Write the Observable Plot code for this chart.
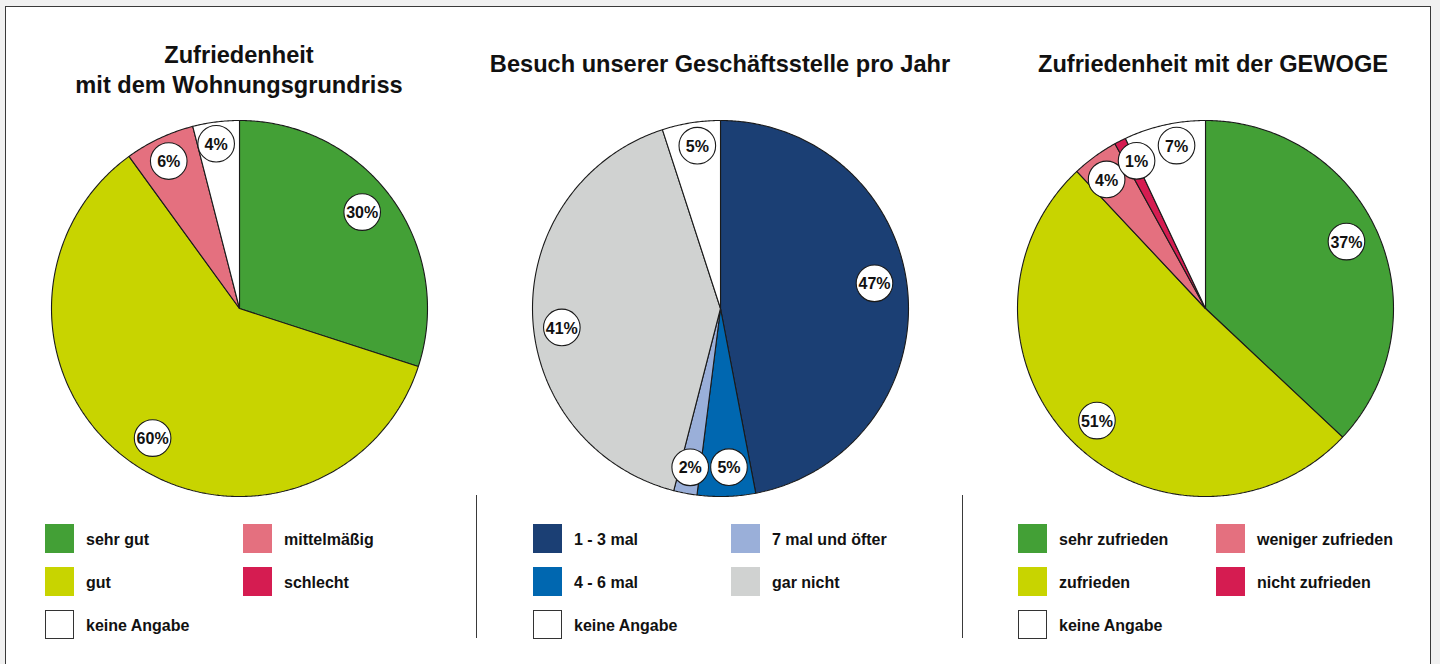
<!DOCTYPE html>
<html>
<head>
<meta charset="utf-8">
<script src="https://cdn.jsdelivr.net/npm/d3@7"></script>
<script src="https://cdn.jsdelivr.net/npm/@observablehq/plot@0.6"></script>
<style>
  html, body { margin: 0; padding: 0; }
  body { width: 1440px; height: 664px; overflow: hidden; background: #f1f1f1; position: relative;
         font-family: "Liberation Sans", Arial, Helvetica, sans-serif; color: #111; }
  #frame { position: absolute; left: 5px; top: 6px; width: 1426px; height: 720px;
           border: 1.5px solid #3a3a3a; background: #fff; box-sizing: border-box; }
  .title { position: absolute; width: 520px; text-align: center; font-weight: bold;
           font-size: 23.6px; line-height: 30px; color: #111; }
  .sep { position: absolute; width: 0; border-left: 1.5px solid #3a3a3a; }
  .item { position: absolute; height: 29px; display: flex; align-items: center; white-space: nowrap; }
  .sw { width: 29px; height: 29px; box-sizing: border-box; margin-right: 12px; flex: none; }
  .lab { font-weight: bold; font-size: 16px; padding-top: 2px; }
  .plot { position: absolute; }
</style>
</head>
<body>
<div id="frame"></div>
<script>
// ---------- data ----------
const grundrissTitle = ["Zufriedenheit", "mit dem Wohnungsgrundriss"];
const grundrissCategories = ["sehr gut", "gut", "mittelmäßig", "schlecht", "keine Angabe"];
const grundrissValues = [30, 60, 6, 0, 4];

const besuchTitle = ["Besuch unserer Geschäftsstelle pro Jahr"];
const besuchCategories = ["1 - 3 mal", "4 - 6 mal", "7 mal und öfter", "gar nicht", "keine Angabe"];
const besuchValues = [47, 5, 2, 41, 5];

const gewogeTitle = ["Zufriedenheit mit der GEWOGE"];
const gewogeCategories = ["sehr zufrieden", "zufrieden", "weniger zufrieden", "nicht zufrieden", "keine Angabe"];
const gewogeValues = [37, 51, 4, 1, 7];

const satisfactionColors = ["#43a036", "#c8d400", "#e4707f", "#d51c51", "#ffffff"];
const visitColors = ["#1b3f74", "#0067b0", "#9aafd9", "#d0d2d1", "#ffffff"];

// ---------- layout (label placement: [fraction along slice, fraction of radius]) ----------
const charts = [
  {title: grundrissTitle, cats: grundrissCategories, vals: grundrissValues, colors: satisfactionColors,
   cx: 239, titleX: 239, titleTop: 40, legendX: 45,
   labelPlace: [[0.48, 0.83], [0.49, 0.83], [0.48, 0.87], [0.5, 0.87], [0.44, 0.885]]},
  {title: besuchTitle, cats: besuchCategories, vals: besuchValues, colors: visitColors,
   cx: 720, titleX: 720, titleTop: 49, legendX: 533,
   labelPlace: [[0.477, 0.83], [0.43, 0.845], [0.5, 0.86], [0.466, 0.85], [0.55, 0.875]]},
  {title: gewogeTitle, cats: gewogeCategories, vals: gewogeValues, colors: satisfactionColors,
   cx: 1205, titleX: 1213, titleTop: 49, legendX: 1018,
   labelPlace: [[0.485, 0.83], [0.495, 0.83], [0.40, 0.865], [1.05, 0.867], [0.6, 0.88]]}
];
const cy = 308, R = 188, M = 12, S = 2 * (R + M);
const ink = "#1a1a1a";

function buildPie(ch) {
  const rows = ch.cats.map((c, i) => ({cat: c, value: ch.vals[i], color: ch.colors[i], i}));
  const arcs = d3.pie().sort(null).value(d => d.value).startAngle(0).endAngle(2 * Math.PI)(rows);
  const marks = [];
  const labels = [];
  for (const a of arcs) {
    if (a.data.value <= 0) continue;
    const n = Math.max(2, Math.ceil((a.endAngle - a.startAngle) / (Math.PI / 360)));
    const pts = [{x: 0, y: 0}];
    for (let k = 0; k <= n; k++) {
      const t = a.startAngle + (a.endAngle - a.startAngle) * k / n;
      pts.push({x: Math.sin(t), y: Math.cos(t)});
    }
    pts.push({x: 0, y: 0});
    marks.push(Plot.line(pts, {x: "x", y: "y", fill: a.data.color, stroke: ink, strokeWidth: 1.1,
                               strokeLinejoin: "miter", curve: "linear"}));
    const [f, lr] = ch.labelPlace[a.data.i];
    const ang = a.startAngle + (a.endAngle - a.startAngle) * f;
    labels.push({x: lr * Math.sin(ang), y: lr * Math.cos(ang), text: a.data.value + "%"});
  }
  marks.push(Plot.dot(labels, {x: "x", y: "y", r: 18.3, fill: "#fff", stroke: ink, strokeWidth: 1.1}));
  marks.push(Plot.text(labels, {x: "x", y: "y", text: "text", fontSize: 16, fontWeight: "bold",
                                fill: "#111", dy: 1}));
  const svg = Plot.plot({
    width: S, height: S,
    marginTop: M, marginBottom: M, marginLeft: M, marginRight: M,
    x: {domain: [-1, 1], axis: null},
    y: {domain: [-1, 1], axis: null},
    style: {fontFamily: "Liberation Sans, Arial, Helvetica, sans-serif", overflow: "visible", background: "transparent"},
    marks
  });
  svg.classList.add("plot");
  svg.style.left = (ch.cx - S / 2) + "px";
  svg.style.top = (cy - S / 2) + "px";
  document.body.appendChild(svg);
}

function buildTitle(ch) {
  const d = document.createElement("div");
  d.className = "title";
  d.style.left = (ch.titleX - 260) + "px";
  d.style.top = ch.titleTop + "px";
  d.innerHTML = ch.title.join("<br>");
  document.body.appendChild(d);
}

function buildLegend(ch) {
  // column 1: items 0,1,4 ; column 2: items 2,3
  const slots = [[0, 0], [0, 1], [1, 0], [1, 1], [0, 2]];
  ch.cats.forEach((c, i) => {
    const [col, row] = slots[i];
    const it = document.createElement("div");
    it.className = "item";
    it.style.left = (ch.legendX + col * 198) + "px";
    it.style.top = (524 + row * 43) + "px";
    const sw = document.createElement("div");
    sw.className = "sw";
    sw.style.background = ch.colors[i];
    if (ch.colors[i].toLowerCase() === "#ffffff") sw.style.border = "1.2px solid #333";
    const lab = document.createElement("span");
    lab.className = "lab";
    lab.textContent = c;
    it.appendChild(sw);
    it.appendChild(lab);
    document.body.appendChild(it);
  });
}

charts.forEach(ch => { buildTitle(ch); buildPie(ch); buildLegend(ch); });

for (const x of [476, 962]) {
  const s = document.createElement("div");
  s.className = "sep";
  s.style.left = x + "px";
  s.style.top = "495px";
  s.style.height = "143px";
  document.body.appendChild(s);
}
</script>
</body>
</html>
